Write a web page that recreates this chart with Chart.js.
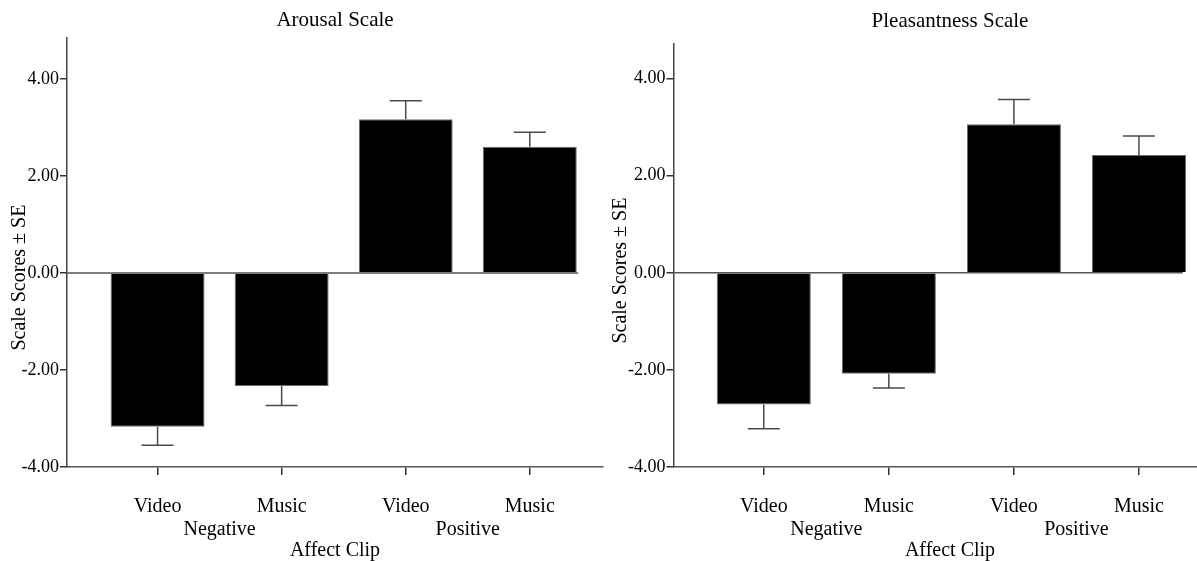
<!DOCTYPE html>
<html>
<head>
<meta charset="utf-8">
<script src="https://cdn.jsdelivr.net/npm/chart.js@4.4.1/dist/chart.umd.min.js"></script>
<style>
  html, body { margin: 0; padding: 0; background: #fff; overflow: hidden; width: 1197px; height: 561px; }
  .panel { position: absolute; top: 0; }
</style>
</head>
<body>
<div class="panel" style="left:0"><canvas id="arousalChart" width="610" height="561"></canvas></div>
<div class="panel" style="left:600px"><canvas id="pleasantChart" width="630" height="561"></canvas></div>
<script>
// Data
const clipTypes = ['Video', 'Music', 'Video', 'Music'];
const affectGroups = ['Negative', 'Positive'];
const yTicks = [-4, -2, 0, 2, 4];

const arousalMeans = [-3.17, -2.33, 3.17, 2.60];
const arousalSE = [0.38, 0.40, 0.38, 0.30];

const pleasantMeans = [-2.71, -2.08, 3.06, 2.43];
const pleasantSE = [0.50, 0.29, 0.51, 0.39];

Chart.defaults.font.family = "'Liberation Serif', 'Times New Roman', serif";
Chart.defaults.color = '#000';

// one-sided SE whiskers with a cap
const errorBarPlugin = {
    id: 'errorBars',
    afterDatasetsDraw(chart, args, opts) {
        const ctx = chart.ctx;
        const yScale = chart.scales.y;
        const meta = chart.getDatasetMeta(0);
        ctx.save();
        ctx.strokeStyle = '#4a4a4a';
        ctx.lineWidth = 1.5;
        meta.data.forEach((bar, i) => {
            const v = opts.means[i];
            const end = v + Math.sign(v) * opts.se[i];
            const y0 = yScale.getPixelForValue(v);
            const y1 = yScale.getPixelForValue(end);
            ctx.beginPath();
            ctx.moveTo(bar.x, y0);
            ctx.lineTo(bar.x, y1);
            ctx.moveTo(bar.x - opts.capHalf, y1);
            ctx.lineTo(bar.x + opts.capHalf, y1);
            ctx.stroke();
        });
        ctx.restore();
    }
};

// reference line at zero, stops a bit past the last bar
const zeroLinePlugin = {
    id: 'zeroLine',
    beforeDatasetsDraw(chart, args, opts) {
        const {ctx, chartArea, scales} = chart;
        const y0 = scales.y.getPixelForValue(0);
        ctx.save();
        ctx.strokeStyle = '#555';
        ctx.lineWidth = 1.5;
        ctx.beginPath();
        ctx.moveTo(chartArea.left, y0);
        ctx.lineTo(scales.x.getPixelForValue(opts.end), y0);
        ctx.stroke();
        ctx.restore();
    }
};

function makeChart(canvasId, cfg) {
    const ctx = document.getElementById(canvasId).getContext('2d');
    return new Chart(ctx, {
        type: 'bar',
        data: {
            datasets: [{
                data: cfg.means.map((v, i) => ({ x: i, y: v })),
                backgroundColor: '#000',
                borderColor: '#6a6a6a',
                borderWidth: 1,
                barPercentage: cfg.barPct,
                categoryPercentage: 1
            }]
        },
        plugins: [zeroLinePlugin, errorBarPlugin],
        options: {
            responsive: false,
            animation: false,
            devicePixelRatio: 1,
            layout: { padding: { left: 0, right: cfg.padRight, top: 0, bottom: 0 } },
            plugins: {
                legend: { display: false },
                tooltip: { enabled: false },
                title: {
                    display: true,
                    fullSize: false,
                    text: cfg.title,
                    color: '#000',
                    font: { size: 21, weight: 'normal' },
                    padding: cfg.titlePad
                },
                errorBars: { means: cfg.means, se: cfg.se, capHalf: 16 },
                zeroLine: { end: cfg.zeroEnd }
            },
            scales: {
                x: {
                    type: 'linear',
                    position: 'bottom',
                    offset: false,
                    min: cfg.xMin,
                    max: cfg.xMax,
                    weight: 0,
                    afterBuildTicks: s => { s.ticks = clipTypes.map((_, i) => ({ value: i })); },
                    afterFit: s => { s.height = 45; },
                    grid: { offset: false, drawOnChartArea: false, drawTicks: true, tickLength: 8, tickColor: '#333', lineWidth: 1.5 },
                    border: { display: true, color: '#555', width: 1.5 },
                    ticks: {
                        autoSkip: false, maxRotation: 0, padding: 20,
                        font: { size: 20 }, color: '#000',
                        callback: (v, i) => clipTypes[i]
                    }
                },
                group: {
                    type: 'linear',
                    axis: 'x',
                    position: 'bottom',
                    offset: false,
                    min: cfg.xMin,
                    max: cfg.xMax,
                    weight: 1,
                    afterBuildTicks: s => { s.ticks = affectGroups.map((_, i) => ({ value: 2 * i + 0.5 })); },
                    afterFit: s => { s.height = 49; },
                    grid: { display: false, offset: false, drawTicks: false, tickLength: 0 },
                    border: { display: false },
                    ticks: {
                        autoSkip: false, maxRotation: 0, padding: 6,
                        font: { size: 20 }, color: '#000',
                        callback: (v, i) => affectGroups[i]
                    },
                    title: { display: true, text: 'Affect Clip', font: { size: 20 }, color: '#000', padding: { top: 0, bottom: -2 } }
                },
                y: {
                    min: -4,
                    max: cfg.yMax,
                    afterBuildTicks: s => { s.ticks = yTicks.map(v => ({ value: v })); },
                    afterFit: s => { s.width = cfg.yAxisWidth; },
                    grid: { drawOnChartArea: false, drawTicks: true, tickLength: 7, tickColor: '#333', lineWidth: 1.5 },
                    border: { display: true, color: '#444', width: 1.5 },
                    ticks: { padding: 1, font: { size: 18 }, color: '#000', callback: v => v.toFixed(2) },
                    title: {
                        display: true,
                        text: 'Scale Scores ± SE' + ' '.repeat(cfg.titleShift),
                        font: { size: 20 }, color: '#000',
                        padding: { top: cfg.yTitleX, bottom: 0 }
                    }
                }
            }
        }
    });
}

makeChart('arousalChart', {
    title: 'Arousal Scale',
    means: arousalMeans,
    se: arousalSE,
    xMin: -0.73, xMax: 3.59,
    yMax: 4.84,
    zeroEnd: 3.39,
    barPct: 0.757,
    padRight: 7,
    yAxisWidth: 67,
    yTitleX: 8,
    titleShift: 10,
    titlePad: { top: 8, bottom: 5 }
});

makeChart('pleasantChart', {
    title: 'Pleasantness Scale',
    means: pleasantMeans,
    se: pleasantSE,
    xMin: -0.722, xMax: 3.70,
    yMax: 4.71,
    zeroEnd: 3.35,
    barPct: 0.752,
    padRight: 3.5,
    yAxisWidth: 73.5,
    yTitleX: 9,
    titleShift: 6,
    titlePad: { top: 9, bottom: 10 }
});
</script>
</body>
</html>
